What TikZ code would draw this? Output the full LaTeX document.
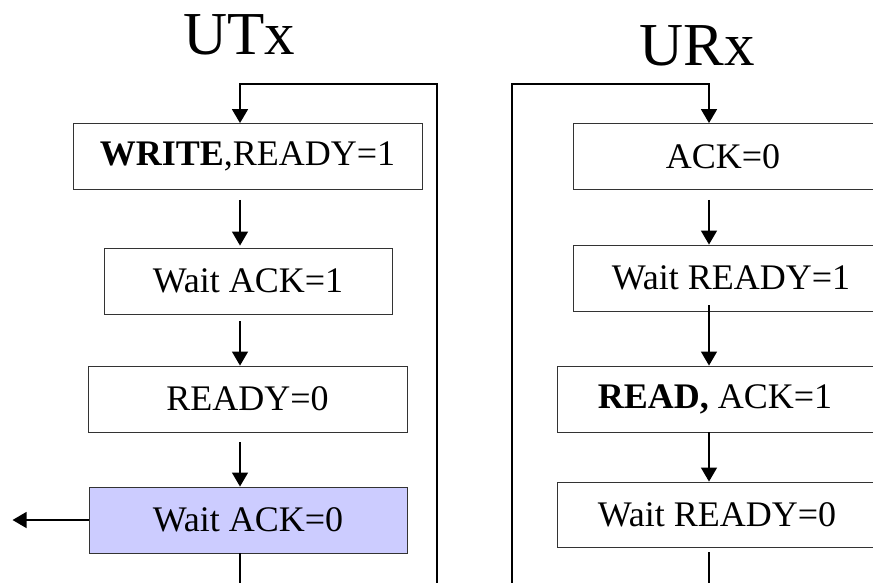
\documentclass[tikz,border=0pt]{standalone}
\usepackage{fontspec}
\setmainfont{Liberation Serif}
\usepackage{tikz}
\usetikzlibrary{arrows.meta}
\definecolor{waitfill}{HTML}{CCCCFF}
\tikzset{
  state/.style={draw=black!80,line width=0.9pt,inner sep=0pt,minimum height=66pt,
    font=\fontsize{36}{40}\selectfont},
  title/.style={anchor=base,inner sep=0pt,font=\fontsize{61}{66}\selectfont},
  flow/.style={line width=1.4pt,-{Triangle[length=14pt,width=16pt]}},
  loopline/.style={line width=1.8pt,-{Triangle[length=14pt,width=16pt]}},
}

\begin{document}
\begin{tikzpicture}[x=1pt,y=-1pt]
\useasboundingbox (0,0) rectangle (873,582);
\clip (0,0) rectangle (873,582);
\node[title] (utx) at (239,54) {UTx};
\node[title] (urx) at (697,65) {URx};
\coordinate (lx) at (240,84);
\coordinate (lr) at (437,84);
\coordinate (rx) at (709,84);
\coordinate (rl) at (512,84);
\node[state,minimum width=349pt] (w1) at (247.5,156.5) {\textbf{WRITE},READY=1};
\node[state,minimum width=288pt] (w2) at (248,281) {Wait ACK=1};
\node[state,minimum width=319pt] (w3) at (247.5,399) {READY=0};
\node[state,minimum width=318pt,fill=waitfill] (w4) at (248,520) {Wait ACK=0};
\node[state,minimum width=300pt] (r1) at (723,156.5) {ACK=0};
\node[state,minimum width=316pt] (r2) at (731,278) {Wait READY=1};
\node[state,minimum width=316pt] (r3) at (715,399) {\textbf{READ,} ACK=1};
\node[state,minimum width=320pt,minimum height=65pt] (r4) at (717,514.5) {Wait READY=0};
\draw[flow,shorten <=10pt,shorten >=2pt] (w1.south -| lx) -- (w2.north -| lx);
\draw[flow,shorten <=7pt] (w2.south -| lx) -- (w3.north -| lx);
\draw[flow,shorten <=10pt] (w3.south -| lx) -- (w4.north -| lx);
\draw[flow] (w4.west) -- ++(-76,0) coordinate (out);
\draw[loopline] (w4.south -| lx) -- ++(0,60) -| (lr) -- (lx) -- (w1.north -| lx);
\draw[flow,shorten <=10pt] (r1.south -| rx) -- (r2.north -| rx);
\draw[flow,shorten <=-6pt] (r2.south -| rx) -- (r3.north -| rx);
\draw[flow] (r3.south -| rx) -- (r4.north -| rx);
\draw[loopline,shorten <=5pt] (r4.south -| rx) -- ++(0,60) -| (rl) -- (rx) -- (r1.north -| rx);
\end{tikzpicture}
\end{document}
